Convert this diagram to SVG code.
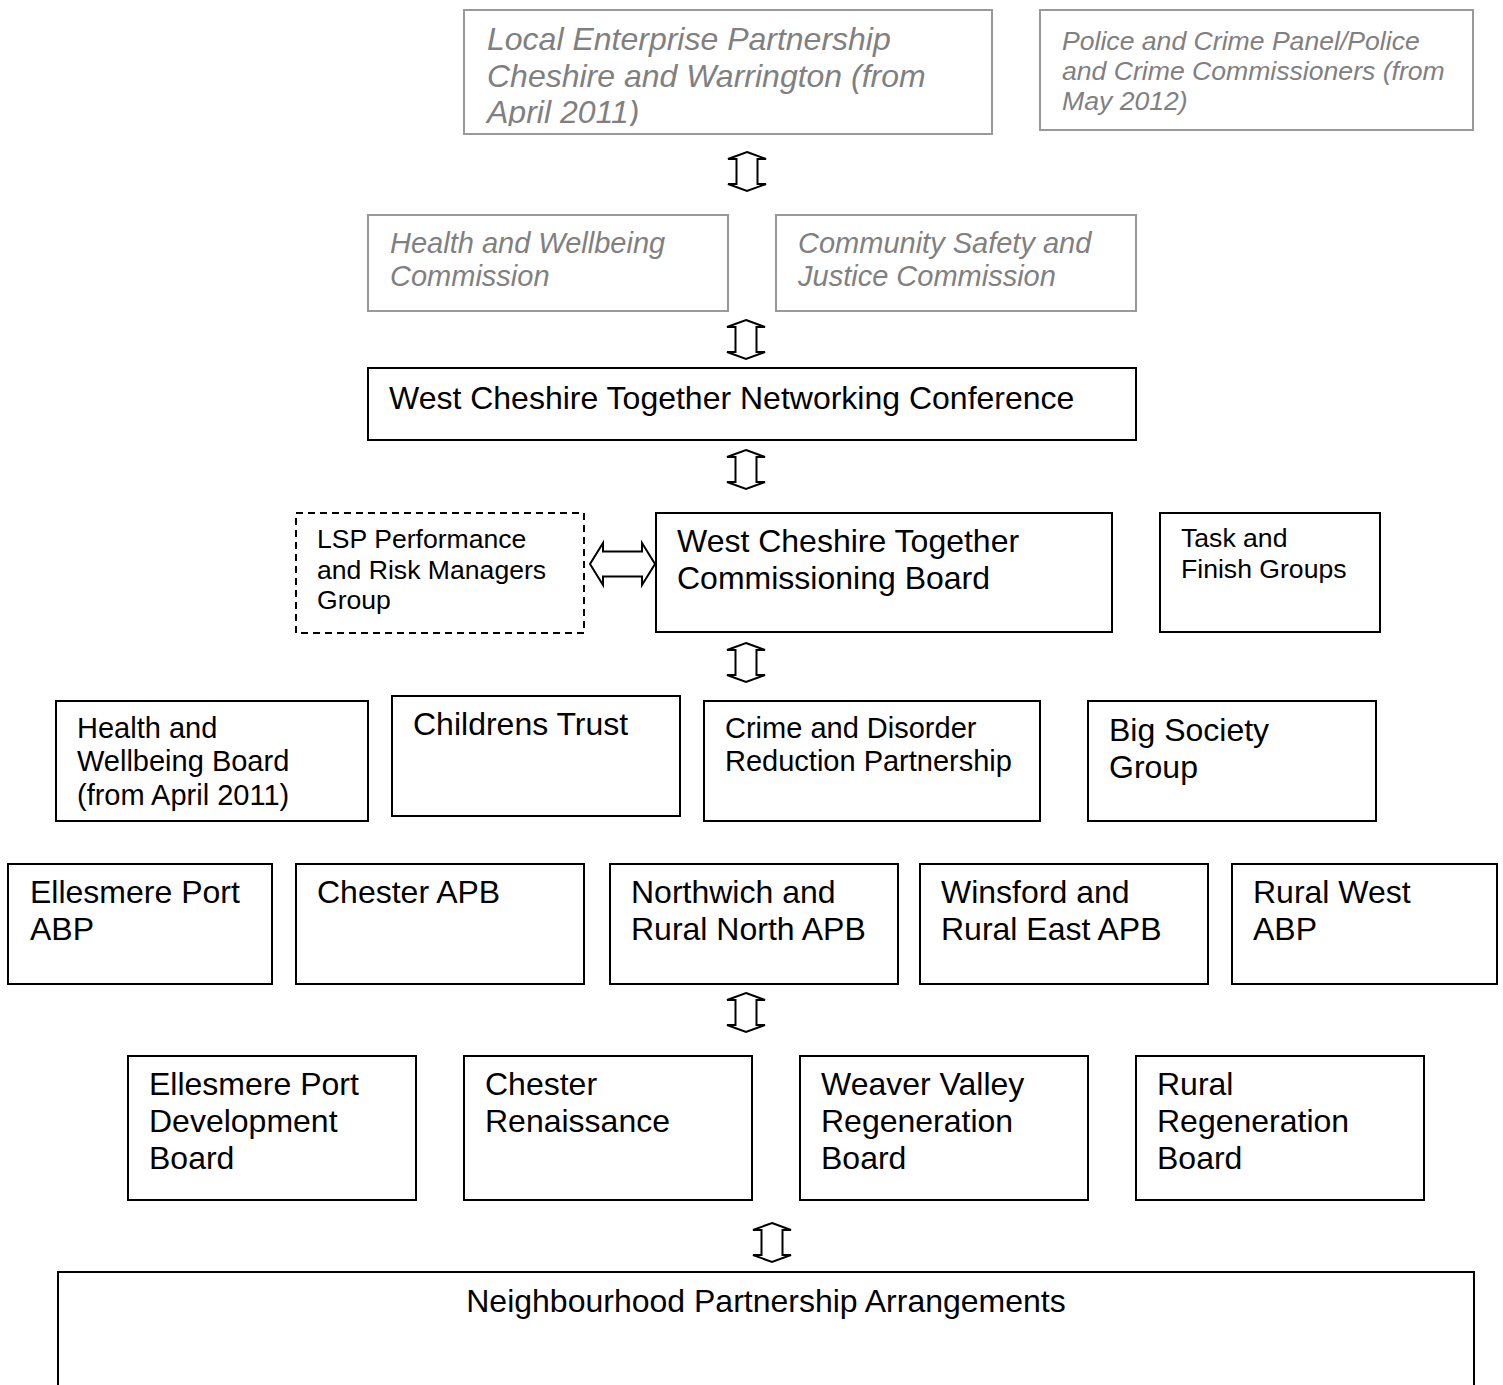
<svg xmlns="http://www.w3.org/2000/svg" xmlns:xlink="http://www.w3.org/1999/xlink" width="1503" height="1385" viewBox="0 0 1503 1385">
<style>
text{font-family:"Liberation Sans",Arial,sans-serif;fill:#000}
.box{fill:#fff;stroke:#000;stroke-width:2}
.gbox{fill:#fff;stroke:#999;stroke-width:2}
.dbox{fill:#fff;stroke:#000;stroke-width:2;stroke-dasharray:7 5}
.g{fill:#808080;font-style:italic}
.f32{font-size:32px}
.f29{font-size:29px}
.f27{font-size:26.6px}
.arr{fill:#fff;stroke:#000;stroke-width:2;stroke-linejoin:miter}
</style>
<defs>
<path id="va" class="arr" d="M0,0 L19,7 L10.5,7 L10.5,32 L19,32 L0,39 L-19,32 L-10.5,32 L-10.5,7 L-19,7 Z"/>
<clipPath id="lepclip"><rect x="464" y="10" width="528" height="116"/></clipPath>
</defs>
<g id="connectors">
<use xlink:href="#va" x="747" y="152"/>
<use xlink:href="#va" x="746" y="320"/>
<use xlink:href="#va" x="746" y="450"/>
<use xlink:href="#va" x="746" y="643"/>
<use xlink:href="#va" x="746" y="993"/>
<use xlink:href="#va" x="772" y="1223"/>
<path class="arr" d="M590,564 L603,543 L603,551.5 L642,551.5 L642,543 L655,564 L642,585 L642,576.5 L603,576.5 L603,585 Z"/>
</g>
<g id="lep">
<rect class="gbox" x="464" y="10" width="528" height="124"/>
<g clip-path="url(#lepclip)">
<text class="g f32" x="487"><tspan x="487" y="50">Local Enterprise Partnership</tspan><tspan x="487" y="87">Cheshire and Warrington (from</tspan><tspan x="487" y="123">April 2011)</tspan></text>
</g>
</g>
<g id="police">
<rect class="gbox" x="1040" y="10" width="433" height="120"/>
<text class="g f27"><tspan x="1062" y="50">Police and Crime Panel/Police</tspan><tspan x="1062" y="80">and Crime Commissioners (from</tspan><tspan x="1062" y="110">May 2012)</tspan></text>
</g>
<g id="hwc">
<rect class="gbox" x="368" y="215" width="360" height="96"/>
<text class="g f29"><tspan x="390" y="253">Health and Wellbeing</tspan><tspan x="390" y="286">Commission</tspan></text>
</g>
<g id="csjc">
<rect class="gbox" x="776" y="215" width="360" height="96"/>
<text class="g f29"><tspan x="798" y="253">Community Safety and</tspan><tspan x="798" y="286">Justice Commission</tspan></text>
</g>
<g id="wctnc">
<rect class="box" x="368" y="368" width="768" height="72"/>
<text class="f32" x="389" y="409">West Cheshire Together Networking Conference</text>
</g>
<g id="lsp">
<rect class="dbox" x="296" y="513" width="288" height="120"/>
<text class="f27"><tspan x="317" y="548">LSP Performance</tspan><tspan x="317" y="579">and Risk Managers</tspan><tspan x="317" y="609">Group</tspan></text>
</g>
<g id="wctcb">
<rect class="box" x="656" y="513" width="456" height="119"/>
<text class="f32"><tspan x="677" y="552">West Cheshire Together</tspan><tspan x="677" y="589">Commissioning Board</tspan></text>
</g>
<g id="tfg">
<rect class="box" x="1160" y="513" width="220" height="119"/>
<text class="f27"><tspan x="1181" y="547">Task and</tspan><tspan x="1181" y="578">Finish Groups</tspan></text>
</g>
<g id="hwb">
<rect class="box" x="56" y="701" width="312" height="120"/>
<text class="f29"><tspan x="77" y="738">Health and</tspan><tspan x="77" y="771">Wellbeing Board</tspan><tspan x="77" y="805">(from April 2011)</tspan></text>
</g>
<g id="ct">
<rect class="box" x="392" y="696" width="288" height="120"/>
<text class="f32" x="413" y="735">Childrens Trust</text>
</g>
<g id="cdrp">
<rect class="box" x="704" y="701" width="336" height="120"/>
<text class="f29"><tspan x="725" y="738">Crime and Disorder</tspan><tspan x="725" y="771">Reduction Partnership</tspan></text>
</g>
<g id="bsg">
<rect class="box" x="1088" y="701" width="288" height="120"/>
<text class="f32"><tspan x="1109" y="741">Big Society</tspan><tspan x="1109" y="778">Group</tspan></text>
</g>
<g id="epabp">
<rect class="box" x="8" y="864" width="264" height="120"/>
<text class="f32"><tspan x="30" y="903">Ellesmere Port</tspan><tspan x="30" y="940">ABP</tspan></text>
</g>
<g id="capb">
<rect class="box" x="296" y="864" width="288" height="120"/>
<text class="f32" x="317" y="903">Chester APB</text>
</g>
<g id="nrnapb">
<rect class="box" x="610" y="864" width="288" height="120"/>
<text class="f32"><tspan x="631" y="903">Northwich and</tspan><tspan x="631" y="940">Rural North APB</tspan></text>
</g>
<g id="wreapb">
<rect class="box" x="920" y="864" width="288" height="120"/>
<text class="f32"><tspan x="941" y="903">Winsford and</tspan><tspan x="941" y="940">Rural East APB</tspan></text>
</g>
<g id="rwabp">
<rect class="box" x="1232" y="864" width="265" height="120"/>
<text class="f32"><tspan x="1253" y="903">Rural West</tspan><tspan x="1253" y="940">ABP</tspan></text>
</g>
<g id="epdb">
<rect class="box" x="128" y="1056" width="288" height="144"/>
<text class="f32"><tspan x="149" y="1095">Ellesmere Port</tspan><tspan x="149" y="1132">Development</tspan><tspan x="149" y="1169">Board</tspan></text>
</g>
<g id="cr">
<rect class="box" x="464" y="1056" width="288" height="144"/>
<text class="f32"><tspan x="485" y="1095">Chester</tspan><tspan x="485" y="1132">Renaissance</tspan></text>
</g>
<g id="wvrb">
<rect class="box" x="800" y="1056" width="288" height="144"/>
<text class="f32"><tspan x="821" y="1095">Weaver Valley</tspan><tspan x="821" y="1132">Regeneration</tspan><tspan x="821" y="1169">Board</tspan></text>
</g>
<g id="rrb">
<rect class="box" x="1136" y="1056" width="288" height="144"/>
<text class="f32"><tspan x="1157" y="1095">Rural</tspan><tspan x="1157" y="1132">Regeneration</tspan><tspan x="1157" y="1169">Board</tspan></text>
</g>
<g id="npa">
<rect class="box" x="58" y="1272" width="1416" height="130"/>
<text class="f32" x="766" y="1312" text-anchor="middle">Neighbourhood Partnership Arrangements</text>
</g>
</svg>
